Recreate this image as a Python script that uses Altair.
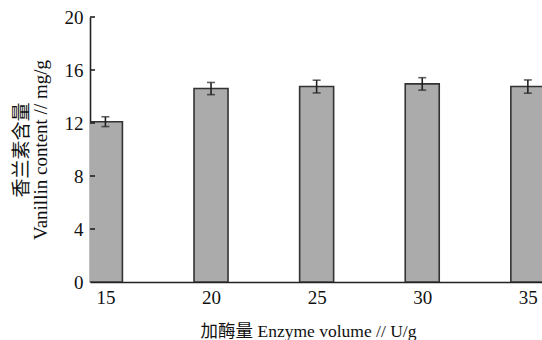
import altair as alt
import pandas as pd

enzyme = [15, 20, 25, 30, 35]
vanillin = [12.1, 14.6, 14.75, 14.95, 14.75]
err = [0.37, 0.46, 0.48, 0.47, 0.5]
yticks = [4, 8, 12, 16, 20]

df = pd.DataFrame({"x": enzyme, "y": vanillin, "e": err})
df["lo"] = df["y"] - df["e"]
df["hi"] = df["y"] + df["e"]
tdf = pd.DataFrame({"t": yticks})

FONT = "Liberation Serif, Noto Sans CJK SC"
xs = alt.Scale(domain=[14.27, 35.67], nice=False, zero=False, padding=0)
ys = alt.Scale(domain=[0, 20], nice=False, padding=0)

base = alt.Chart(df)

bars = base.mark_bar(size=34, fill="#ababab", stroke="#333333", strokeWidth=1.6, clip=True).encode(
    x=alt.X("x:Q", scale=xs,
            axis=alt.Axis(values=enzyme, ticks=False, grid=False, labelPadding=6,
                          labelFontSize=19, labelFont=FONT, labelColor="#111",
                          domainColor="#222", domainWidth=1.6,
                          title="加酶量 Enzyme volume // U/g", titleFont=FONT,
                          titleFontSize=17.5, titleFontWeight="normal", titleColor="#111",
                          titlePadding=15, titleX=218, titleAnchor="middle")),
    y=alt.Y("y:Q", scale=ys,
            axis=alt.Axis(values=[0] + yticks, ticks=False, grid=False, labelPadding=7,
                          labelFontSize=19, labelFont=FONT, labelColor="#111",
                          domainColor="#222", domainWidth=1.6,
                          title=["香兰素含量", "Vanillin content // mg/g"], titleFont=FONT,
                          titleFontSize=19, titleFontWeight="normal", titleColor="#111",
                          titlePadding=14, titleLineHeight=19)),
)

errs = base.mark_rule(color="#222", strokeWidth=1.6).encode(
    x=alt.X("x:Q", scale=xs), y="lo:Q", y2="hi:Q"
)
caps_lo = base.mark_tick(color="#222", size=8, thickness=1.6, orient="horizontal").encode(
    x=alt.X("x:Q", scale=xs), y="lo:Q"
)
caps_hi = base.mark_tick(color="#222", size=8, thickness=1.6, orient="horizontal").encode(
    x=alt.X("x:Q", scale=xs), y="hi:Q"
)

ticks = alt.Chart(tdf).mark_rule(color="#222", strokeWidth=1.6).encode(
    y=alt.Y("t:Q", scale=ys), x=alt.value(0), x2=alt.value(5)
)

chart = alt.layer(bars, errs, caps_lo, caps_hi, ticks).properties(
    width=452, height=265,
    padding={"left": 90, "top": 17, "right": 0, "bottom": 58},
    autosize=alt.AutoSizeParams(type="none"),
    background="white",
).configure_view(stroke=None)

chart.save("out.html", embed_options={"renderer": "svg", "actions": False})
